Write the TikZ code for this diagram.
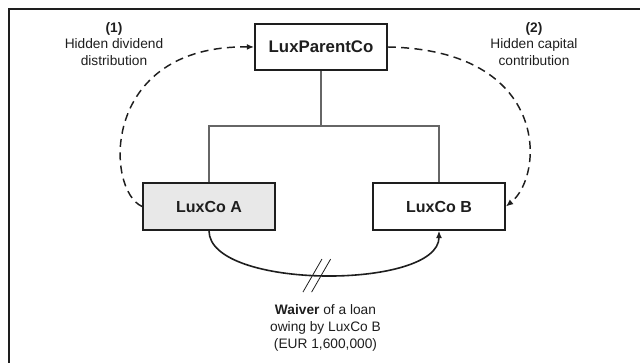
\documentclass[tikz,border=0pt]{standalone}
\usepackage{fontspec}
\setmainfont{Liberation Sans}
\usetikzlibrary{arrows.meta}
\definecolor{ink}{HTML}{1E1E1E}
\definecolor{boxgray}{HTML}{E8E8E8}
\begin{document}
\begin{tikzpicture}[x=0.75pt,y=-0.75pt,
  company/.style={draw=ink,line width=1.3pt,minimum width=99pt,minimum height=35pt,
    inner sep=0pt,text=ink,font=\fontsize{12}{14}\selectfont\bfseries},
  tree/.style={draw=black!60,line width=0.8pt},
  flow/.style={draw=ink,line width=1.1pt,dash pattern=on 6pt off 4pt,
    -{Latex[length=5.5pt,width=4.5pt]}},
  loan/.style={draw=ink,line width=1.2pt,-{Latex[length=5.5pt,width=4.5pt]}},
  note/.style={align=center,text=ink,font=\fontsize{10.3}{12.6}\selectfont},
  slash/.style={draw=ink,line width=0.6pt}]
  \useasboundingbox (0,0) rectangle (640,363);

  % frame
  \draw[ink,line width=1.1pt] (9,363) -- (9,9) -- (640,9);

  % companies
  \node[company,font=\fontsize{12.6}{14}\selectfont\bfseries] (parent) at (321,47) {LuxParentCo};
  \node[company,fill=boxgray] (A) at (209,206.5) {LuxCo A};
  \node[company] (B) at (439,206.5) {LuxCo B};

  % shareholding tree
  \coordinate (bus) at (321,126);
  \draw[tree] (parent.south) -- (bus);
  \draw[tree] (A.north) |- (bus) -| (B.north);

  % hidden flows
  \draw[flow] (A.west) .. controls (105,190) and (100,45) .. (parent.west);
  \draw[flow] (parent.east) .. controls (550,50) and (545,175) .. (B.east);

  % loan waiver
  \draw[loan] (A.south) .. controls (209,290) and (439,290) .. coordinate[pos=0.48] (cut) (B.south);
  \draw[slash] ([xshift=-3.5]cut) ++(-9.5,17) -- ++(19,-33);
  \draw[slash] ([xshift=3]cut) ++(-9.5,17) -- ++(19,-33);

  % labels
  \node[note] (n1) at (114,44) {\textbf{(1)}\\Hidden dividend\\distribution};
  \node[note] (n2) at (534,44) {\textbf{(2)}\\Hidden capital\\contribution};
  \node[note] (n3) at (325.5,328) {\textbf{Waiver} of a loan\\owing by LuxCo B\\(EUR 1,600,000)};
\end{tikzpicture}
\end{document}
